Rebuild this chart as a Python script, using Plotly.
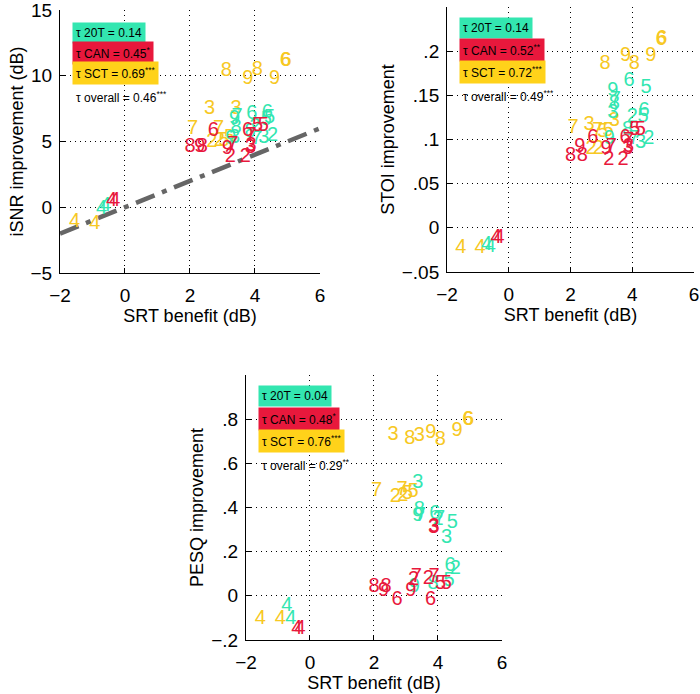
import plotly.graph_objects as go

# subject labels and values (two points per subject per condition)
SUBJ_20T = ["4", "4", "9", "9", "7", "7", "8", "8", "6", "6", "5", "5", "3", "3", "2", "2"]
SRT_20T = [-0.72, -0.6, 3.37, 3.26, 3.45, 4.05, 3.42, 3.85, 3.9, 4.38, 4.45, 4.35, 3.37, 4.27, 4.0, 4.54]
ISNR_20T = [-0.15, 0.1, 6.7, 5.2, 6.85, 5.2, 6.0, 5.7, 7.1, 7.15, 6.8, 6.6, 5.3, 5.3, 6.1, 5.45]
STOI_20T = [-0.019, -0.022, 0.155, 0.100, 0.145, 0.100, 0.140, 0.111, 0.166, 0.132, 0.158, 0.125, 0.130, 0.096, 0.125, 0.100]
PESQ_20T = [-0.044, -0.104, 0.362, 0.039, 0.36, 0.35, 0.39, 0.054, 0.37, 0.137, 0.33, 0.069, 0.512, 0.26, 0.345, 0.122]

SUBJ_CAN = ["4", "4", "8", "8", "9", "9", "6", "6", "7", "7", "2", "2", "3", "3", "5", "5"]
SRT_CAN = [-0.41, -0.31, 2.0, 2.38, 2.3, 3.15, 2.72, 3.77, 3.32, 3.88, 3.24, 3.7, 3.86, 3.88, 4.08, 4.26]
ISNR_CAN = [0.48, 0.48, 4.55, 4.55, 4.6, 4.4, 5.83, 5.83, 4.7, 5.4, 3.8, 3.8, 4.5, 4.65, 6.2, 6.2]
STOI_CAN = [-0.012, -0.012, 0.081, 0.081, 0.092, 0.089, 0.102, 0.102, 0.092, 0.098, 0.077, 0.077, 0.089, 0.092, 0.111, 0.111]
PESQ_CAN = [-0.149, -0.149, 0.039, 0.039, 0.024, 0.024, -0.021, -0.021, 0.084, 0.084, 0.07, 0.077, 0.309, 0.31, 0.054, 0.054]

SUBJ_SCT = ["4", "4", "3", "3", "7", "7", "8", "8", "9", "9", "6", "6", "2", "2", "5", "5"]
SRT_SCT = [-1.55, -0.93, 2.6, 3.42, 2.08, 2.88, 3.12, 4.07, 3.78, 4.6, 4.93, 4.96, 2.67, 2.9, 3.05, 3.22]
ISNR_SCT = [-1.15, -1.3, 7.48, 7.48, 5.95, 5.95, 10.33, 10.4, 9.72, 9.72, 11.1, 11.15, 4.93, 5.0, 5.06, 5.3]
STOI_SCT = [-0.023, -0.023, 0.116, 0.121, 0.113, 0.110, 0.185, 0.185, 0.194, 0.194, 0.213, 0.214, 0.089, 0.089, 0.108, 0.110]
PESQ_SCT = [-0.104, -0.104, 0.73, 0.725, 0.474, 0.48, 0.71, 0.707, 0.737, 0.745, 0.794, 0.796, 0.449, 0.452, 0.46, 0.47]

# Kendall tau per condition: 20T, CAN, SCT, overall
TAU_ISNR = ["0.14", "0.45<sup>*</sup>", "0.69<sup>***</sup>", "0.46<sup>***</sup>"]
TAU_STOI = ["0.14", "0.52<sup>**</sup>", "0.72<sup>***</sup>", "0.49<sup>***</sup>"]
TAU_PESQ = ["0.04", "0.48<sup>*</sup>", "0.76<sup>***</sup>", "0.29<sup>**</sup>"]
TAU_NAMES = ["20T", "CAN", "SCT", "overall"]

IDENTITY = [-2, 6]

X_TICKS = [-2, 0, 2, 4, 6]
X_TICKTEXT = ["−2", "0", "2", "4", "6"]
ISNR_TICKS = [-5, 0, 5, 10, 15]
ISNR_TICKTEXT = ["−5", "0", "5", "10", "15"]
STOI_TICKS = [-0.05, 0, 0.05, 0.1, 0.15, 0.2]
STOI_TICKTEXT = ["−.05", "0", ".05", ".1", ".15", ".2"]
PESQ_TICKS = [-0.2, 0, 0.2, 0.4, 0.6, 0.8]
PESQ_TICKTEXT = ["−.2", "0", ".2", ".4", ".6", ".8"]

FONT = "Liberation Sans, Arial, sans-serif"
GREEN = "#33E6B0"
RED = "#E8183C"
GOLD = "#FFD21A"
DIGIT_GOLD = "#F7C823"

fig = go.Figure()

fig.add_trace(go.Scatter(
    x=IDENTITY, y=IDENTITY, mode="lines",
    line=dict(color="#666666", width=4.5, dash="20px,8px,5px,8px"),
    xaxis="x", yaxis="y", showlegend=False, hoverinfo="skip",
))

panels = [
    ("x", "y", ISNR_SCT, ISNR_20T, ISNR_CAN),
    ("x2", "y2", STOI_SCT, STOI_20T, STOI_CAN),
    ("x3", "y3", PESQ_SCT, PESQ_20T, PESQ_CAN),
]

for xa, ya, y_sct, y_20t, y_can in panels:
    for labels, xs, ys, color in [
        (SUBJ_SCT, SRT_SCT, y_sct, DIGIT_GOLD),
        (SUBJ_20T, SRT_20T, y_20t, GREEN),
        (SUBJ_CAN, SRT_CAN, y_can, RED),
    ]:
        fig.add_trace(go.Scatter(
            x=xs, y=ys, mode="text", text=labels,
            textposition="middle center",
            textfont=dict(family=FONT, size=20, color=color),
            xaxis=xa, yaxis=ya, showlegend=False, hoverinfo="skip",
        ))

axis_style = dict(
    showline=True, linecolor="black", linewidth=1, mirror=False,
    ticks="inside", ticklen=5, tickcolor="black",
    showgrid=True, gridcolor="black", gridwidth=1, griddash="1px,4px",
    zeroline=False, tickfont=dict(family=FONT, size=19, color="black"),
    ticklabeloverflow="allow", automargin=False,
    title_font=dict(family=FONT, size=18, color="black"),
)

def x_axis(domain, anchor):
    return dict(axis_style, domain=domain, anchor=anchor, range=[-2, 6],
                tickvals=X_TICKS, ticktext=X_TICKTEXT, ticklabelstandoff=5,
                title=dict(text="SRT benefit (dB)", standoff=4))

def y_axis(domain, anchor, rng, vals, text, title):
    return dict(axis_style, domain=domain, anchor=anchor, range=rng,
                tickvals=vals, ticktext=text, ticklabelstandoff=3,
                title=dict(text=title, standoff=2))

fig.update_layout(
    width=700, height=694,
    margin=dict(l=0, r=0, t=0, b=0, autoexpand=False),
    paper_bgcolor="white", plot_bgcolor="white",
    xaxis=x_axis([0.0857, 0.4571], "y"),
    yaxis=y_axis([0.6066, 0.9856], "x", [-5, 15], ISNR_TICKS, ISNR_TICKTEXT,
                 "iSNR improvement (dB)"),
    xaxis2=x_axis([0.6386, 0.9914], "y2"),
    yaxis2=y_axis([0.6081, 0.9899], "x2", [-0.05, 0.25], STOI_TICKS, STOI_TICKTEXT,
                  "STOI improvement"),
    xaxis3=x_axis([0.3514, 0.7171], "y3"),
    yaxis3=y_axis([0.0778, 0.4597], "x3", [-0.2, 1.0], PESQ_TICKS, PESQ_TICKTEXT,
                  "PESQ improvement"),
)

# tau boxes, positioned in axis-domain fractions
box_layout = [
    ("x", "y", TAU_ISNR, 0.046, [0.911, 0.835, 0.759, 0.669]),
    ("x2", "y2", TAU_STOI, 0.0486, [0.921, 0.838, 0.755, 0.664]),
    ("x3", "y3", TAU_PESQ, 0.047, [0.919, 0.832, 0.751, 0.660]),
]
box_colors = [GREEN, RED, GOLD, None]

for xa, ya, taus, x0, ys in box_layout:
    for name, tau, yy, bg in zip(TAU_NAMES, taus, ys, box_colors):
        fig.add_annotation(
            xref=xa + " domain", yref=ya + " domain", x=x0, y=yy,
            xanchor="left", yanchor="middle", showarrow=False,
            text="τ " + name + " = " + tau,
            font=dict(family=FONT, size=12, color="black"),
            bgcolor=bg if bg else "rgba(0,0,0,0)", borderpad=3,
        )

# drop the default page margin so the 700x694 figure sits at the window origin
fig.write_html("out.html", config={"displayModeBar": False},
               post_script="document.body.style.margin = '0';")
